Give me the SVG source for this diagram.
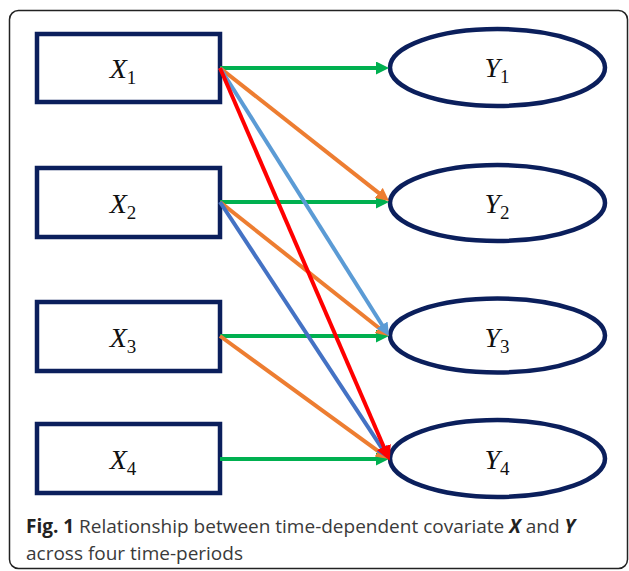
<svg xmlns="http://www.w3.org/2000/svg" width="629" height="571" viewBox="0 0 629 571">
<style>
.box{fill:#fff;stroke:#0b1f5c;stroke-width:4.5}
.lbl{font-family:"Liberation Serif",serif;font-size:28px;fill:#111}
.sub{font-size:19px}
.e{fill:none;stroke-width:4}
.cap{font-family:"Open Sans",sans-serif;font-size:19px;fill:#3a3a3a}
</style>
<defs>
<marker id="mg" markerUnits="userSpaceOnUse" markerWidth="14" markerHeight="14" refX="3" refY="6.5" orient="auto"><path d="M0,0 L13,6.5 L0,13 z" fill="#00b050"/></marker>
<marker id="mo" markerUnits="userSpaceOnUse" markerWidth="14" markerHeight="14" refX="3" refY="6.5" orient="auto"><path d="M0,0 L13,6.5 L0,13 z" fill="#ed7d31"/></marker>
<marker id="ml" markerUnits="userSpaceOnUse" markerWidth="14" markerHeight="14" refX="3" refY="6.5" orient="auto"><path d="M0,0 L13,6.5 L0,13 z" fill="#5b9bd5"/></marker>
<marker id="mb" markerUnits="userSpaceOnUse" markerWidth="14" markerHeight="14" refX="3" refY="6.5" orient="auto"><path d="M0,0 L13,6.5 L0,13 z" fill="#4472c4"/></marker>
<marker id="mr" markerUnits="userSpaceOnUse" markerWidth="16" markerHeight="16" refX="3" refY="7.5" orient="auto"><path d="M0,0 L15,7.5 L0,15 z" fill="#ff0000"/></marker>
</defs>
<rect x="9.5" y="10.5" width="618" height="558" rx="9" fill="none" stroke="#222" stroke-width="1.5"/>
<g id="X1"><rect class="box" x="37" y="34" width="183" height="68"/><text class="lbl" x="123" y="78" text-anchor="middle"><tspan font-style="italic">X</tspan><tspan class="sub" dy="6">1</tspan></text></g>
<g id="X2"><rect class="box" x="37" y="168" width="183" height="69"/><text class="lbl" x="123" y="213" text-anchor="middle"><tspan font-style="italic">X</tspan><tspan class="sub" dy="6">2</tspan></text></g>
<g id="X3"><rect class="box" x="37" y="302" width="183" height="69"/><text class="lbl" x="123" y="347" text-anchor="middle"><tspan font-style="italic">X</tspan><tspan class="sub" dy="6">3</tspan></text></g>
<g id="X4"><rect class="box" x="37" y="424" width="183" height="69"/><text class="lbl" x="123" y="469" text-anchor="middle"><tspan font-style="italic">X</tspan><tspan class="sub" dy="6">4</tspan></text></g>
<g id="Y1"><ellipse class="box" cx="497.5" cy="67.5" rx="107.5" ry="38.5"/><text class="lbl" x="497" y="77" text-anchor="middle"><tspan font-style="italic">Y</tspan><tspan class="sub" dy="6">1</tspan></text></g>
<g id="Y2"><ellipse class="box" cx="497.5" cy="203" rx="107.5" ry="38"/><text class="lbl" x="497" y="213" text-anchor="middle"><tspan font-style="italic">Y</tspan><tspan class="sub" dy="6">2</tspan></text></g>
<g id="Y3"><ellipse class="box" cx="497.5" cy="335.5" rx="107.5" ry="37"/><text class="lbl" x="497" y="347" text-anchor="middle"><tspan font-style="italic">Y</tspan><tspan class="sub" dy="6">3</tspan></text></g>
<g id="Y4"><ellipse class="box" cx="497.5" cy="458.5" rx="107.5" ry="38.5"/><text class="lbl" x="497" y="469" text-anchor="middle"><tspan font-style="italic">Y</tspan><tspan class="sub" dy="6">4</tspan></text></g>
<g id="connectors">
<line class="e" stroke="#00b050" x1="220" y1="68" x2="379" y2="68" marker-end="url(#mg)"/>
<line class="e" stroke="#00b050" x1="220" y1="202" x2="379" y2="202" marker-end="url(#mg)"/>
<line class="e" stroke="#00b050" x1="220" y1="336" x2="379" y2="336" marker-end="url(#mg)"/>
<line class="e" stroke="#00b050" x1="220" y1="459" x2="379" y2="459" marker-end="url(#mg)"/>
<line class="e" stroke="#ed7d31" x1="220" y1="68" x2="381.14" y2="194.82" marker-end="url(#mo)"/>
<line class="e" stroke="#ed7d31" x1="220" y1="202" x2="381.16" y2="329.79" marker-end="url(#mo)"/>
<line class="e" stroke="#ed7d31" x1="220" y1="336" x2="380.92" y2="453.12" marker-end="url(#mo)"/>
<line class="e" stroke="#4472c4" x1="220" y1="202" x2="383.51" y2="450.65" marker-end="url(#mb)"/>
<line class="e" stroke="#5b9bd5" x1="220" y1="68" x2="383.67" y2="327.54" marker-end="url(#ml)"/>
<line class="e" stroke="#ff0000" stroke-width="5" x1="220" y1="68" x2="385.03" y2="449.82" marker-end="url(#mr)"/>
</g>
<text class="cap" x="26" y="533"><tspan font-weight="bold" fill="#222">Fig. 1</tspan> Relationship between time-dependent covariate <tspan font-weight="bold" font-style="italic" fill="#222">X</tspan> and <tspan font-weight="bold" font-style="italic" fill="#222">Y</tspan></text>
<text class="cap" x="26" y="560">across four time-periods</text>
</svg>
